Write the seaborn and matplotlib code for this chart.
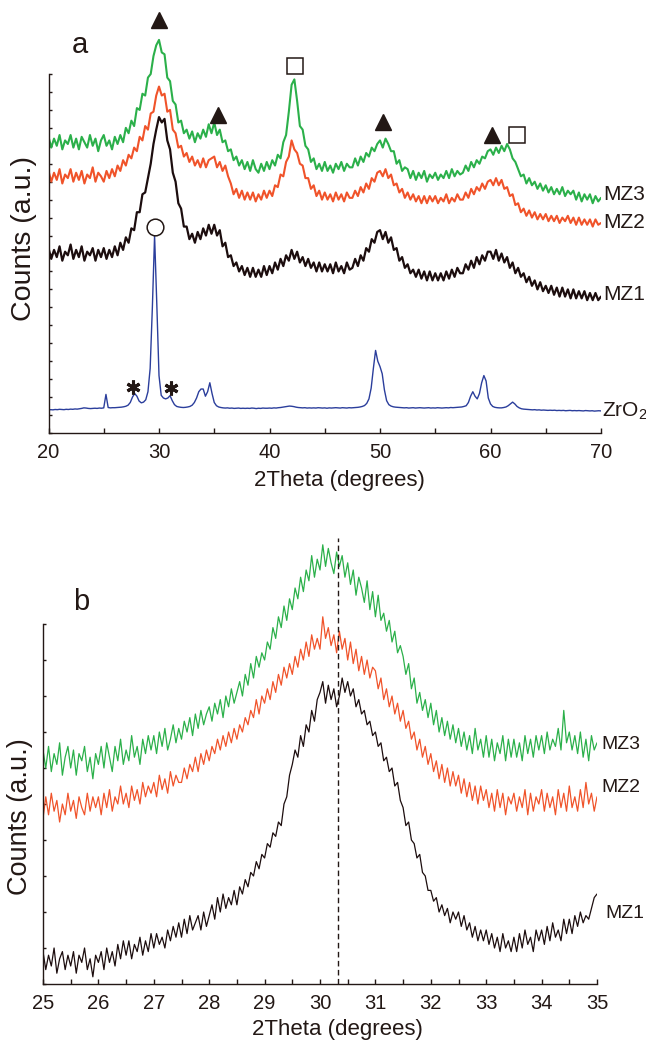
"""XRD patterns of MZ1-MZ3 and ZrO2 (a) and zoom on the main reflection (b)."""

import matplotlib

matplotlib.use("Agg")
import matplotlib.pyplot as plt
import numpy as np
import seaborn as sns
from matplotlib.ticker import MultipleLocator

sns.set_style("ticks")
plt.rcParams["font.family"] = ["Liberation Sans", "DejaVu Sans"]
plt.rcParams["mathtext.fontset"] = "custom"
plt.rcParams["mathtext.rm"] = "Liberation Sans"
plt.rcParams["mathtext.it"] = "Liberation Sans:italic"

INK = "#231815"
COLORS = {"MZ3": "#2bb04a", "MZ2": "#f0532a", "MZ1": "#1c0d0e", "ZrO2": "#2b3e9c"}

# ---------------------------------------------------------------- panel a data
THETA_A = np.round(np.arange(20, 70.001, 0.25), 2)      # 2theta grid (deg)
THETA_ZRO2 = np.round(np.arange(20, 70.001, 0.2), 2)

MZ3_A = [
    16.5, 15.9, 16.4, 16.0, 16.6, 15.8, 16.3, 16.1, 16.6, 15.9,
    16.4, 15.8, 16.5, 16.2, 15.9, 16.6, 16.0, 16.4, 15.7, 16.3,
    16.6, 16.0, 16.3, 15.8, 16.5, 16.1, 16.6, 16.2, 17.0, 16.7,
    17.4, 17.1, 18.1, 18.0, 18.9, 18.8, 19.8, 20.0, 21.0, 21.6,
    21.9, 21.2, 21.1, 19.8, 19.6, 18.5, 18.3, 17.3, 17.4, 16.7,
    16.9, 16.4, 16.8, 16.2, 16.7, 16.4, 16.9, 16.5, 17.2, 16.7,
    17.3, 16.6, 16.9, 16.2, 16.3, 15.7, 15.8, 15.2, 15.4, 14.9,
    15.2, 14.7, 15.1, 14.6, 15.2, 14.7, 14.5, 15.0, 14.6, 15.1,
    14.7, 15.2, 14.9, 15.5, 15.3, 16.2, 16.6, 17.9, 19.4, 19.7,
    18.5, 17.1, 16.9, 16.0, 15.8, 15.1, 15.3, 14.7, 15.0, 14.6,
    15.1, 14.6, 14.9, 14.5, 15.0, 14.7, 15.1, 14.6, 15.0, 14.8,
    14.8, 15.3, 14.9, 15.4, 15.1, 15.6, 15.4, 15.9, 15.7, 16.1,
    16.3, 15.9, 16.4, 16.1, 15.7, 15.7, 15.0, 15.2, 14.6, 14.8,
    14.7, 14.2, 14.6, 14.1, 14.5, 14.2, 14.6, 14.0, 14.4, 14.2,
    14.5, 14.1, 14.4, 14.2, 14.6, 14.2, 14.7, 14.3, 14.6, 14.4,
    14.5, 14.9, 14.6, 15.1, 14.8, 15.2, 15.0, 15.4, 15.3, 15.7,
    15.8, 15.5, 15.9, 15.6, 16.0, 15.7, 16.1, 15.8, 15.3, 15.1,
    14.7, 14.3, 14.4, 13.9, 14.2, 13.8, 14.0, 13.6, 13.9, 13.5,
    13.8, 13.4, 13.7, 13.3, 13.6, 13.3, 13.7, 13.2, 13.5, 13.3,
    13.5, 13.0, 13.4, 12.9, 13.3, 13.0, 13.3, 12.8, 13.2, 12.9,
    13.1,
]

MZ2_A = [
    14.6, 14.0, 14.5, 14.1, 14.7, 13.9, 14.4, 14.2, 14.7, 14.0,
    14.5, 14.1, 14.6, 13.9, 14.4, 14.2, 14.8, 14.0, 14.5, 14.3,
    14.0, 14.6, 14.2, 14.7, 14.3, 14.9, 14.6, 15.2, 14.9, 15.5,
    15.3, 15.9, 15.7, 16.5, 16.3, 17.1, 16.9, 17.8, 17.9, 18.8,
    19.3, 18.8, 18.9, 17.9, 18.0, 16.9, 16.7, 15.9, 16.0, 15.4,
    15.6, 15.1, 15.4, 14.9, 15.2, 14.8, 15.3, 14.8, 15.2, 15.3,
    15.4, 14.8, 15.1, 14.6, 14.9, 14.3, 13.9, 13.3, 13.6, 13.1,
    13.5, 13.0, 13.4, 13.0, 13.4, 12.9, 13.3, 13.0, 13.5, 13.1,
    13.5, 13.2, 13.8, 13.7, 14.4, 14.3, 15.1, 15.4, 16.3, 15.8,
    15.6, 15.0, 14.9, 14.2, 14.2, 13.6, 13.8, 13.2, 13.5, 13.0,
    13.4, 13.0, 13.3, 12.9, 13.4, 13.0, 13.3, 12.9, 13.4, 13.1,
    13.1, 13.5, 13.2, 13.7, 13.4, 13.9, 13.6, 14.2, 14.0, 14.5,
    14.6, 14.3, 14.7, 14.2, 14.4, 13.8, 13.9, 13.4, 13.6, 13.1,
    13.4, 13.0, 13.3, 12.9, 13.2, 12.8, 13.2, 12.8, 13.2, 12.9,
    13.2, 12.8, 13.1, 12.9, 13.3, 12.8, 13.1, 12.9, 13.3, 13.0,
    13.0, 13.4, 13.1, 13.6, 13.3, 13.7, 13.5, 13.9, 13.6, 14.0,
    14.1, 13.8, 14.2, 13.8, 14.1, 13.6, 13.7, 13.2, 13.3, 12.7,
    12.8, 12.3, 12.5, 12.1, 12.4, 12.0, 12.3, 11.9, 12.2, 11.9,
    12.2, 11.8, 12.1, 11.8, 12.1, 11.7, 12.0, 11.8, 12.1, 11.7,
    12.0, 11.6, 12.0, 11.6, 11.9, 11.6, 11.9, 11.5, 11.9, 11.6,
    11.7,
]

MZ1_A = [
    10.3, 9.7, 10.2, 9.8, 10.4, 9.6, 10.1, 9.9, 10.5, 9.7,
    10.2, 9.8, 10.4, 9.6, 10.1, 9.9, 10.3, 9.6, 10.2, 9.8,
    10.3, 9.7, 10.2, 9.8, 10.4, 9.9, 10.6, 10.2, 10.9, 10.6,
    11.4, 11.3, 12.3, 12.3, 13.3, 13.4, 14.2, 15.0, 16.1, 16.9,
    17.6, 17.3, 17.5, 16.3, 15.8, 14.5, 14.0, 12.8, 12.5, 11.5,
    11.5, 10.8, 11.1, 10.6, 11.2, 10.8, 11.4, 11.0, 11.6, 11.1,
    11.6, 11.0, 11.3, 10.4, 10.6, 9.8, 9.9, 9.3, 9.5, 9.0,
    9.3, 8.8, 9.2, 8.7, 9.2, 8.7, 9.1, 8.7, 9.3, 8.8,
    9.3, 8.9, 9.5, 9.1, 9.7, 9.3, 9.9, 9.6, 10.2, 9.7,
    10.1, 9.5, 9.8, 9.3, 9.7, 9.2, 9.5, 9.0, 9.5, 9.0,
    9.4, 9.0, 9.4, 8.9, 9.5, 9.0, 9.3, 8.9, 9.5, 9.1,
    9.2, 9.7, 9.3, 9.9, 9.6, 10.3, 10.1, 10.8, 10.6, 11.2,
    11.3, 10.8, 11.2, 10.6, 10.9, 10.2, 10.3, 9.6, 9.8, 9.2,
    9.4, 8.9, 9.1, 8.7, 9.1, 8.6, 9.0, 8.5, 9.0, 8.5,
    8.9, 8.5, 8.9, 8.5, 9.0, 8.6, 9.1, 8.7, 9.2, 8.9,
    8.9, 9.4, 9.1, 9.6, 9.2, 9.8, 9.4, 9.9, 9.6, 10.1,
    10.1, 9.7, 10.2, 9.6, 10.0, 9.5, 9.8, 9.2, 9.5, 8.9,
    9.2, 8.7, 8.9, 8.4, 8.7, 8.2, 8.5, 8.0, 8.4, 7.9,
    8.2, 7.8, 8.2, 7.7, 8.1, 7.6, 8.1, 7.6, 8.0, 7.5,
    8.0, 7.5, 7.9, 7.5, 7.9, 7.4, 7.8, 7.4, 7.8, 7.4,
    7.6,
]

ZRO2_A = [
    1.28, 1.30, 1.29, 1.31, 1.30, 1.32, 1.31, 1.30, 1.32, 1.31,
    1.33, 1.32, 1.34, 1.33, 1.35, 1.37, 1.40, 1.39, 1.37, 1.36,
    1.37, 1.38, 1.37, 1.39, 1.38, 1.40, 2.15, 1.42, 1.40, 1.41,
    1.41, 1.42, 1.43, 1.44, 1.46, 1.49, 1.55, 1.70, 2.00, 2.20,
    2.05, 1.78, 1.68, 1.72, 1.85, 2.30, 3.60, 7.00, 11.0, 7.20,
    3.20, 2.10, 1.95, 1.90, 1.95, 2.08, 1.80, 1.58, 1.48, 1.45,
    1.43, 1.42, 1.43, 1.45, 1.48, 1.55, 1.70, 1.95, 2.30, 2.45,
    2.45, 2.05, 2.30, 2.80, 2.20, 1.70, 1.52, 1.45, 1.42, 1.40,
    1.39, 1.40, 1.38, 1.39, 1.37, 1.38, 1.39, 1.37, 1.38, 1.37,
    1.38, 1.37, 1.39, 1.38, 1.36, 1.38, 1.37, 1.39, 1.38, 1.38,
    1.39, 1.38, 1.40, 1.39, 1.41, 1.42, 1.44, 1.46, 1.48, 1.50,
    1.49, 1.47, 1.44, 1.42, 1.41, 1.40, 1.41, 1.39, 1.40, 1.39,
    1.40, 1.39, 1.41, 1.40, 1.39, 1.40, 1.38, 1.40, 1.39, 1.40,
    1.41, 1.40, 1.39, 1.41, 1.40, 1.39, 1.41, 1.40, 1.41, 1.42,
    1.43, 1.45, 1.48, 1.53, 1.65, 1.90, 2.50, 3.60, 4.60, 4.00,
    3.70, 3.30, 2.40, 1.80, 1.58, 1.50, 1.46, 1.44, 1.43, 1.42,
    1.41, 1.40, 1.41, 1.39, 1.40, 1.41, 1.39, 1.40, 1.41, 1.40,
    1.39, 1.40, 1.41, 1.39, 1.40, 1.39, 1.41, 1.40, 1.39, 1.40,
    1.41, 1.40, 1.42, 1.41, 1.42, 1.43, 1.44, 1.45, 1.48, 1.52,
    1.70, 2.05, 2.30, 2.05, 1.90, 2.20, 2.80, 3.20, 2.90, 1.95,
    1.62, 1.48, 1.43, 1.41, 1.40, 1.40, 1.42, 1.45, 1.52, 1.62,
    1.72, 1.62, 1.48, 1.40, 1.35, 1.33, 1.32, 1.31, 1.30, 1.29,
    1.30, 1.28, 1.29, 1.27, 1.28, 1.27, 1.26, 1.27, 1.26, 1.27,
    1.25, 1.26, 1.25, 1.26, 1.24, 1.25, 1.26, 1.24, 1.25, 1.24,
    1.25, 1.24, 1.23, 1.25, 1.24, 1.23, 1.24, 1.22, 1.23, 1.24,
    1.23,
]

# phase markers (2theta, height)
TRIANGLES = ([30.0, 35.3, 50.3, 60.1], [23.0, 17.7, 17.3, 16.6])
SQUARES = ([42.3, 62.4], [20.45, 16.6])
CIRCLE = ([29.6], [11.45])
STARS = ([27.65, 31.1], [2.56, 2.5])

# ---------------------------------------------------------------- panel b data
THETA_B = np.round(np.arange(25, 35.001, 0.05), 2)
PEAK_B = 30.32

MZ3_B = [
    6.5, 6.0, 6.6, 5.9, 6.4, 6.1, 6.7, 5.8, 6.3, 6.6,
    6.0, 6.5, 5.8, 6.4, 6.2, 6.6, 5.9, 6.3, 5.7, 6.4,
    6.1, 6.6, 6.0, 6.7, 6.3, 5.9, 6.6, 6.2, 6.8, 6.1,
    6.5, 6.2, 6.9, 6.3, 6.6, 6.1, 6.8, 6.4, 6.9, 6.5,
    6.9, 6.4, 7.0, 6.6, 7.1, 6.5, 6.8, 7.2, 6.7, 7.1,
    6.8, 7.3, 7.0, 7.4, 6.9, 7.5, 7.1, 7.6, 7.2, 7.5,
    7.7, 7.3, 7.8, 7.5, 7.9, 7.4, 8.0, 7.7, 8.2, 7.8,
    8.1, 8.4, 8.0, 8.6, 8.3, 8.9, 8.5, 9.1, 8.8, 9.2,
    9.0, 9.5, 9.3, 9.9, 9.6, 10.2, 9.9, 10.5, 10.1, 10.7,
    10.4, 11.0, 10.7, 11.3, 10.9, 11.5, 11.2, 11.9, 11.3, 11.8,
    11.5, 12.2, 11.6, 12.1, 11.7, 11.4, 12.0, 11.6, 11.9, 11.3,
    11.7, 11.1, 11.5, 10.8, 11.3, 11.0, 10.6, 11.2, 10.4, 10.9,
    10.2, 10.8, 10.1, 10.3, 9.8, 10.1, 9.5, 9.8, 9.2, 9.4,
    9.1, 8.6, 8.9, 8.2, 8.5, 7.8, 8.1, 7.6, 7.9, 7.4,
    7.8, 7.2, 7.6, 7.0, 7.4, 6.9, 7.3, 6.8, 7.2, 6.7,
    7.1, 6.6, 7.0, 6.5, 6.9, 6.4, 7.1, 6.5, 6.8, 6.3,
    6.9, 6.3, 6.8, 6.2, 6.7, 6.4, 6.9, 6.2, 6.8, 6.3,
    6.8, 6.3, 6.7, 6.2, 6.9, 6.4, 6.8, 6.3, 6.9, 6.5,
    6.9, 6.4, 7.0, 6.5, 6.8, 6.6, 7.1, 6.5, 7.6, 6.7,
    7.0, 6.5, 6.9, 6.4, 7.0, 6.3, 6.8, 6.2, 6.9, 6.5,
    6.7,
]

MZ2_B = [
    4.6, 5.2, 4.7, 5.3, 4.8, 5.1, 4.5, 5.0, 4.7, 5.3,
    4.8, 5.1, 4.6, 5.2, 4.9, 4.7, 5.3, 4.8, 5.2, 4.9,
    5.2, 4.7, 5.3, 4.9, 5.4, 4.8, 5.2, 5.0, 5.5, 5.0,
    5.3, 4.9, 5.5, 5.1, 5.4, 5.0, 5.6, 5.2, 5.5, 5.3,
    5.6, 5.2, 5.8, 5.4, 5.7, 5.3, 5.9, 5.5, 5.8, 5.6,
    5.6, 6.0, 5.7, 6.1, 5.9, 6.3, 5.9, 6.4, 6.1, 6.5,
    6.2, 6.6, 6.4, 6.8, 6.5, 6.9, 6.6, 7.0, 6.7, 7.1,
    6.8, 7.2, 7.0, 7.4, 7.2, 7.6, 7.4, 7.9, 7.5, 8.0,
    7.8, 8.2, 7.9, 8.4, 8.1, 8.6, 8.3, 8.8, 8.5, 8.9,
    8.6, 9.1, 8.8, 9.3, 9.0, 9.5, 9.1, 9.7, 9.3, 9.6,
    9.3, 10.2, 9.6, 9.9, 9.4, 9.7, 9.2, 9.8, 9.3, 9.6,
    9.0, 9.5, 8.9, 9.3, 8.7, 9.1, 8.6, 9.0, 8.5, 8.8,
    8.7, 8.2, 8.5, 7.9, 8.2, 7.7, 8.0, 7.5, 7.8, 7.3,
    7.6, 7.1, 7.3, 6.8, 7.0, 6.5, 6.8, 6.3, 6.6, 6.1,
    6.4, 5.9, 6.2, 5.7, 6.1, 5.6, 6.0, 5.5, 5.9, 5.5,
    5.8, 5.3, 5.7, 5.2, 5.6, 5.1, 5.5, 5.0, 5.5, 5.1,
    5.4, 4.9, 5.3, 4.8, 5.4, 4.9, 5.3, 4.7, 5.2, 5.0,
    5.3, 4.8, 5.2, 4.9, 5.4, 4.7, 5.3, 4.8, 5.2, 5.0,
    5.4, 4.8, 5.3, 4.9, 5.2, 4.7, 5.4, 4.9, 5.3, 4.8,
    5.5, 4.9, 5.2, 4.8, 5.4, 4.9, 5.6, 5.0, 5.3, 4.8,
    5.2,
]

MZ1_B = [
    0.9, 0.4, 0.8, 0.5, 1.0, 0.3, 0.7, 0.9, 0.4, 0.8,
    0.5, 0.9, 0.3, 0.8, 0.6, 1.0, 0.4, 0.7, 0.2, 0.8,
    0.6, 0.9, 0.4, 1.0, 0.6, 0.9, 0.5, 1.1, 0.7, 1.2,
    0.8, 1.2, 0.7, 1.1, 0.9, 1.3, 0.8, 1.2, 0.9, 1.4,
    1.0, 1.4, 1.1, 1.3, 1.0, 1.5, 1.2, 1.6, 1.3, 1.7,
    1.3, 1.8, 1.4, 1.9, 1.5, 1.7, 1.9, 1.5, 2.0, 1.6,
    1.9, 2.2, 1.8, 2.4, 2.0, 2.5, 2.1, 2.4, 2.2, 2.6,
    2.2, 2.7, 2.5, 2.9, 2.7, 3.1, 3.0, 3.4, 3.2, 3.6,
    3.5, 3.9, 3.8, 4.2, 4.1, 4.5, 4.4, 5.0, 5.2, 5.8,
    6.1, 6.5, 6.3, 6.9, 6.6, 7.2, 7.0, 7.6, 7.3, 7.9,
    8.1, 8.4, 7.8, 8.3, 7.9, 8.2, 7.7, 8.0, 8.5, 8.1,
    8.4, 8.0, 8.2, 7.7, 7.9, 7.5, 7.6, 7.2, 7.3, 6.9,
    7.0, 6.6, 6.7, 6.2, 6.3, 5.9, 6.0, 5.5, 5.6, 5.1,
    4.9, 4.4, 4.5, 4.0, 3.9, 3.5, 3.6, 3.1, 3.0, 2.6,
    2.6, 2.3, 2.4, 2.0, 2.2, 1.9, 2.1, 1.7, 2.0, 1.8,
    2.0, 1.6, 1.9, 1.5, 1.7, 1.3, 1.6, 1.2, 1.5, 1.2,
    1.5, 1.1, 1.4, 1.0, 1.3, 0.9, 1.4, 1.0, 1.2, 0.9,
    1.3, 0.9, 1.4, 1.0, 1.5, 1.1, 1.3, 0.9, 1.5, 1.2,
    1.5, 1.1, 1.6, 1.2, 1.7, 1.3, 1.5, 1.2, 1.8, 1.4,
    1.8, 1.4, 1.9, 1.6, 2.0, 1.7, 1.9, 1.8, 2.1, 2.4,
    2.5,
]

# series name labels at the right end of the curves
LABELS_A = [("MZ3", 70.2, 13.26), ("MZ2", 70.2, 11.7), ("MZ1", 70.2, 7.69),
            ("ZrO$_2$", 70.1, 1.23)]
LABELS_B = [("MZ3", 35.08, 6.64), ("MZ2", 35.08, 5.47), ("MZ1", 35.15, 1.97)]


def style_axis(ax, xlim, ytop, spine_top, xmajor, xminor, ystep, ytick_len):
    ax.set_xlim(*xlim)
    ax.set_ylim(0, ytop)
    ax.spines["top"].set_visible(False)
    ax.spines["right"].set_visible(False)
    ax.spines["left"].set_bounds(0, spine_top)
    for side in ("left", "bottom"):
        ax.spines[side].set_color(INK)
        ax.spines[side].set_linewidth(1.0)
    ax.xaxis.set_major_locator(MultipleLocator(xmajor))
    ax.xaxis.set_minor_locator(MultipleLocator(xminor))
    ax.set_yticks(np.arange(0, spine_top + 0.01, ystep))
    ax.tick_params(axis="x", which="both", direction="in", length=3.6, width=1.0,
                   colors=INK, labelsize=14.5, pad=7)
    ax.tick_params(axis="y", which="both", direction="in", length=ytick_len,
                   width=1.0, colors=INK, labelleft=False)
    ax.set_xlabel("2Theta (degrees)", fontsize=16, color=INK, va="top")
    ax.set_ylabel("Counts (a.u.)", color=INK)
    ax.patch.set_alpha(0)


fig = plt.figure(figsize=(6.46, 10.43), dpi=100)

# ------------------------------------------------------------------ panel a
ax_a = fig.add_axes([48.5 / 646, 610 / 1043, 552.5 / 646, 433 / 1043])
sns.lineplot(x=THETA_ZRO2, y=ZRO2_A, ax=ax_a, color=COLORS["ZrO2"], lw=1.0,
             estimator=None)
sns.lineplot(x=THETA_A, y=MZ1_A, ax=ax_a, color=COLORS["MZ1"], lw=1.6,
             estimator=None)
sns.lineplot(x=THETA_A, y=MZ2_A, ax=ax_a, color=COLORS["MZ2"], lw=1.5,
             estimator=None)
sns.lineplot(x=THETA_A, y=MZ3_A, ax=ax_a, color=COLORS["MZ3"], lw=1.5,
             estimator=None)

ax_a.plot(*TRIANGLES, ls="none", marker="^", ms=12, color=INK)
ax_a.plot(*SQUARES, ls="none", marker="s", ms=12, mfc="white", mec=INK, mew=1.1)
ax_a.plot(*CIRCLE, ls="none", marker="o", ms=12, mfc="white", mec=INK, mew=1.1)
ax_a.plot(*STARS, ls="none", marker=(6, 2, 0), ms=10, mec=INK, mew=2.2)

for name, x, y in LABELS_A:
    ax_a.text(x, y, name, fontsize=15, color=INK, ha="left", va="center")
ax_a.text(22.85, 21.6, "a", fontsize=21, color=INK, ha="center", va="center")

style_axis(ax_a, (20, 70), 433 / 17.95, 20, 10, 5, 1, 2.2)
ax_a.yaxis.label.set_fontsize(20.5)
ax_a.xaxis.set_label_coords(0.527, -0.085)
ax_a.yaxis.set_label_coords(-0.021, 0.45)

# ------------------------------------------------------------------ panel b
ax_b = fig.add_axes([43 / 646, 59 / 1043, 554 / 646, 464 / 1043])
sns.lineplot(x=THETA_B, y=MZ1_B, ax=ax_b, color=COLORS["MZ1"], lw=0.9,
             estimator=None)
sns.lineplot(x=THETA_B, y=MZ2_B, ax=ax_b, color=COLORS["MZ2"], lw=0.9,
             estimator=None)
sns.lineplot(x=THETA_B, y=MZ3_B, ax=ax_b, color=COLORS["MZ3"], lw=0.9,
             estimator=None)
ax_b.axvline(PEAK_B, ymin=0, ymax=12.4 / (464 / 36), color=INK, lw=1.0,
             ls=(0, (4, 2.5)))

for name, x, y in LABELS_B:
    ax_b.text(x, y, name, fontsize=14, color=INK, ha="left", va="center")
ax_b.text(25.69, 10.6, "b", fontsize=21, color=INK, ha="center", va="center")

style_axis(ax_b, (25, 35), 464 / 36, 10, 1, 0.5, 1, 2.2)
ax_b.yaxis.label.set_fontsize(19.5)
ax_b.xaxis.set_label_coords(0.532, -0.075)
ax_b.yaxis.set_label_coords(-0.018, 0.36)

fig.savefig("out.png", dpi=100)
